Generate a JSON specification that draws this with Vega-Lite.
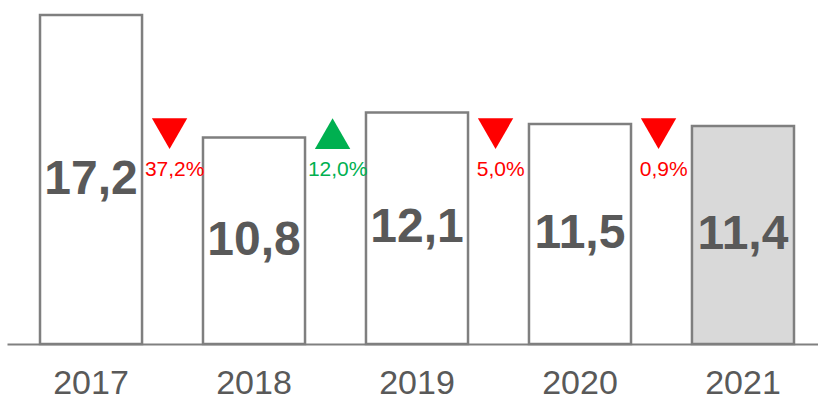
{
  "$schema": "https://vega.github.io/schema/vega-lite/v6.json",
  "width": 820,
  "height": 329,
  "autosize": {"type": "none"},
  "padding": {"left": 7, "top": 15, "right": 0, "bottom": 56},
  "background": "white",
  "config": {"view": {"stroke": null}, "font": "Liberation Sans"},
  "datasets": {
    "bars": [
      {"year": "2017", "value": 17.2, "label": "17,2", "current": "no"},
      {"year": "2018", "value": 10.8, "label": "10,8", "current": "no"},
      {"year": "2019", "value": 12.1, "label": "12,1", "current": "no"},
      {"year": "2020", "value": 11.5, "label": "11,5", "current": "no"},
      {"year": "2021", "value": 11.4, "label": "11,4", "current": "yes"}
    ],
    "changes": [
      {"year": "2017", "change": "37,2%", "dir": "down"},
      {"year": "2018", "change": "12,0%", "dir": "up"},
      {"year": "2019", "change": "5,0%", "dir": "down"},
      {"year": "2020", "change": "0,9%", "dir": "down"}
    ]
  },
  "encoding": {
    "x": {
      "field": "year",
      "type": "ordinal",
      "scale": {"domain": ["2017", "2018", "2019", "2020", "2021"], "paddingInner": 0.374, "paddingOuter": 0.2025},
      "axis": {
        "title": null,
        "ticks": false,
        "labelAngle": 0,
        "labelFontSize": 34,
        "labelColor": "#595959",
        "labelPadding": 22,
        "domainColor": "#808080",
        "domainWidth": 2,
        "grid": false
      }
    }
  },
  "layer": [
    {
      "data": {"name": "bars"},
      "mark": {"type": "bar", "stroke": "#7F7F7F", "strokeWidth": 2.5},
      "encoding": {
        "y": {"field": "value", "type": "quantitative", "scale": {"domain": [0, 17.2], "nice": false}, "axis": null},
        "fill": {"field": "current", "type": "nominal", "scale": {"domain": ["no", "yes"], "range": ["#FFFFFF", "#D9D9D9"]}, "legend": null}
      }
    },
    {
      "data": {"name": "bars"},
      "transform": [{"calculate": "datum.value / 2", "as": "mid"}],
      "mark": {"type": "text", "fontSize": 48, "fontWeight": "bold", "color": "#595959", "baseline": "middle", "align": "center"},
      "encoding": {
        "y": {"field": "mid", "type": "quantitative"},
        "text": {"field": "label"}
      }
    },
    {
      "data": {"name": "changes"},
      "mark": {"type": "point", "filled": true, "size": 1250, "opacity": 1},
      "encoding": {
        "x": {"field": "year", "type": "ordinal", "bandPosition": 1.27},
        "y": {"datum": 11.0, "type": "quantitative"},
        "shape": {"field": "dir", "type": "nominal", "scale": {"domain": ["down", "up"], "range": ["triangle-down", "triangle-up"]}, "legend": null},
        "color": {"field": "dir", "type": "nominal", "scale": {"domain": ["down", "up"], "range": ["#FF0000", "#00B050"]}, "legend": null}
      }
    },
    {
      "data": {"name": "changes"},
      "mark": {"type": "text", "fontSize": 21, "baseline": "middle", "align": "center"},
      "encoding": {
        "x": {"field": "year", "type": "ordinal", "bandPosition": 1.32},
        "y": {"datum": 9.1, "type": "quantitative"},
        "text": {"field": "change"},
        "color": {"field": "dir", "type": "nominal", "scale": {"domain": ["down", "up"], "range": ["#FF0000", "#00B050"]}, "legend": null}
      }
    }
  ]
}
